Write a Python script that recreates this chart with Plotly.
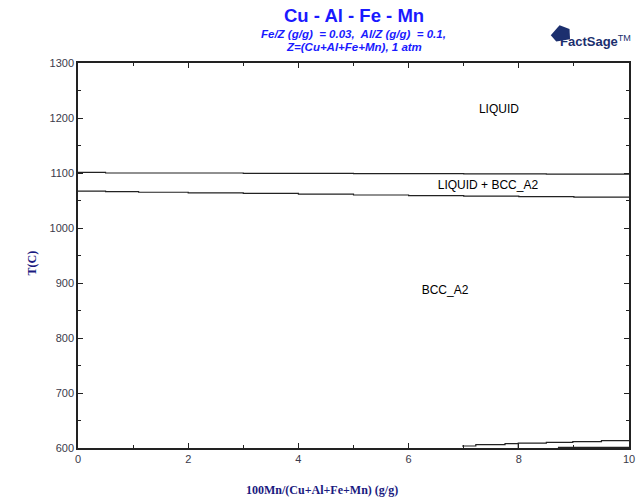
import plotly.graph_objects as go

# Data
liq_x = [0, 0.5, 1.5, 3.0, 5.0, 7.0, 8.5, 10]
liq_t = [1101, 1100, 1100, 1099.5, 1099, 1098.5, 1098, 1098]
sol_x = [0, 0.5, 1.1, 2.0, 3.0, 4.0, 5.0, 6.0, 7.0, 8.0, 9.0, 10]
sol_t = [1067, 1066, 1065, 1064, 1063, 1061.5, 1060, 1059, 1058, 1057, 1056, 1055]
low_x = [6.97, 7.22, 7.75, 7.99, 8.5, 8.98, 9.5, 10]
low_t = [603.6, 606, 607.8, 609, 610.4, 611.5, 613.3, 613.3]
drop_x = [7.99, 7.99]
drop_t = [609, 600]
base_x = [8.71, 10]
base_t = [601, 601]

labels = ["LIQUID", "LIQUID + BCC_A2", "BCC_A2"]
label_x = [7.64, 7.44, 6.66]
label_t = [1214, 1076, 885]

x_ticks = [0, 2, 4, 6, 8, 10]
y_ticks = [600, 700, 800, 900, 1000, 1100, 1200, 1300]

fig = go.Figure()
line_style = dict(color="#222222", width=1.2)
fig.add_trace(go.Scatter(x=liq_x, y=liq_t, mode="lines", line=line_style, line_shape="hv", hoverinfo="skip"))
fig.add_trace(go.Scatter(x=sol_x, y=sol_t, mode="lines", line=line_style, line_shape="hv", hoverinfo="skip"))
fig.add_trace(go.Scatter(x=low_x, y=low_t, mode="lines", line=line_style, line_shape="hv", hoverinfo="skip"))
fig.add_trace(go.Scatter(x=drop_x, y=drop_t, mode="lines", line=line_style, hoverinfo="skip"))
fig.add_trace(go.Scatter(x=base_x, y=base_t, mode="lines", line=line_style, hoverinfo="skip"))
fig.add_trace(go.Scatter(x=label_x, y=label_t, mode="text", text=labels,
                         textfont=dict(family="Liberation Sans, Arial", size=12, color="black"),
                         hoverinfo="skip"))

axis_common = dict(showline=True, linecolor="#222222", linewidth=1.5, mirror="ticks",
                   ticks="inside", ticklen=5, tickcolor="#222222", showgrid=False, zeroline=False,
                   automargin=False,
                   tickfont=dict(family="Liberation Sans, Arial", size=11, color="#3a3a4a"))

fig.update_layout(
    width=643, height=499,
    margin=dict(l=78, r=14, t=63, b=51, autoexpand=False),
    paper_bgcolor="white", plot_bgcolor="white",
    showlegend=False,
    xaxis=dict(range=[0, 10], tickvals=x_ticks, ticktext=[str(v) for v in x_ticks],
               minor=dict(dtick=1, ticks="inside", ticklen=3, tickcolor="#222222"),
               **axis_common),
    yaxis=dict(range=[600, 1300], tickvals=y_ticks, ticktext=[str(v) for v in y_ticks],
               minor=dict(dtick=50, ticks="inside", ticklen=3, tickcolor="#222222"),
               **axis_common),
)

title_font = dict(family="Liberation Serif, Times New Roman", size=12, color="#1a1a80")
fig.add_annotation(text="<b>100Mn/(Cu+Al+Fe+Mn) (g/g)</b>", xref="paper", yref="paper",
                   x=0.5, y=0, xshift=-32, yshift=-42, showarrow=False, xanchor="center", yanchor="middle",
                   font=title_font)
fig.add_annotation(text="<b>T(C)</b>", xref="paper", yref="paper", textangle=-90,
                   x=0, y=0.5, xshift=-47, yshift=-8, showarrow=False, xanchor="center", yanchor="middle",
                   font=title_font)

fig.add_annotation(text="<b>Cu - Al - Fe - Mn</b>", xref="paper", yref="paper",
                   x=0.5, y=1, yshift=63 - 15, showarrow=False, xanchor="center", yanchor="middle",
                   font=dict(family="Liberation Sans, Arial", size=18.5, color="#1a1aff"))
sub_font = dict(family="Liberation Sans, Arial", size=11.5, color="#1a1aff")
fig.add_annotation(text="<b><i>Fe/Z (g/g)  = 0.03,  Al/Z (g/g)  = 0.1,</i></b>",
                   xref="paper", yref="paper", x=0.5, y=1, yshift=63 - 34, showarrow=False,
                   xanchor="center", yanchor="middle", font=sub_font)
fig.add_annotation(text="<b><i>Z=(Cu+Al+Fe+Mn), 1 atm</i></b>",
                   xref="paper", yref="paper", x=0.5, y=1, yshift=63 - 47, showarrow=False,
                   xanchor="center", yanchor="middle", font=sub_font)
# FactSage logo approximation
fig.add_shape(type="path", xref="paper", yref="paper",
              path="M 0.858 1.072 L 0.874 1.098 L 0.892 1.088 L 0.893 1.062 L 0.868 1.056 Z",
              fillcolor="#1c2f6e", line=dict(width=0))
fig.add_annotation(text="<b>FactSage</b><sup>TM</sup>", xref="paper", yref="paper",
                   x=1.0, y=1, yshift=63 - 41, xshift=4, showarrow=False, xanchor="right", yanchor="middle",
                   font=dict(family="Liberation Sans, Arial", size=13, color="#1c2f6e"))

fig.write_html("out.html", config={"displayModeBar": False},
               post_script="document.body.style.margin='0px';")
